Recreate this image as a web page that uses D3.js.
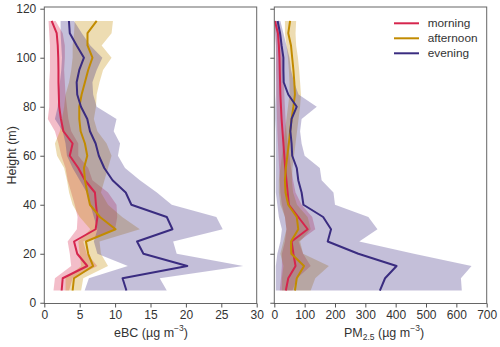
<!DOCTYPE html>
<html>
<head>
<meta charset="utf-8">
<script src="https://cdn.jsdelivr.net/npm/d3@7"></script>
<style>
  body { margin: 0; background: #fff; }
  svg text { font-family: "Liberation Sans", Arial, sans-serif; fill: #333; }
  .tick text { font-size: 12px; }
  .tick line { stroke: #555; }
  .domain { display: none; }
  .label { font-size: 12.5px; }
  .legend { font-size: 11.8px; }
</style>
</head>
<body>
<script>
//data
var heights = [5, 10, 15, 20, 25, 30, 35, 40, 45, 50, 55, 60, 65, 70, 75, 80, 85, 90, 95, 100, 105, 110, 115];

var ebcMorning   = [2.45, 2.6, 6.07, 4.65, 4.2, 7.25, 7.5, 7.3, 7.15, 5.74, 4.8, 3.6, 4.0, 2.7, 2.35, 2.1, 2.05, 2.0, 2.0, 1.97, 1.9, 1.75, 1.04];
var ebcMorningLo = [1.3, 1.5, 3.8, 3.6, 3.3, 4.6, 4.7, 4.3, 3.8, 3.3, 3.0, 2.4, 2.0, 1.5, 0.5, 0.7, 0.7, 0.7, 0.8, 0.8, 0.8, 0.7, 0.6];
var ebcMorningHi = [3.5, 4.0, 7.5, 6.0, 5.5, 10.0, 10.3, 10.2, 9.0, 6.8, 6.2, 4.8, 4.8, 3.8, 3.4, 3.2, 3.0, 2.9, 2.8, 2.9, 2.9, 2.6, 1.6];

var ebcAfternoon   = [4.0, 4.19, 6.9, 6.2, 5.88, 10.07, 7.86, 6.45, 6.07, 5.74, 5.6, 6.07, 5.74, 5.13, 4.94, 4.94, 5.27, 5.74, 6.2, 6.8, 6.1, 6.1, 7.4];
var ebcAfternoonLo = [3.0, 3.0, 5.2, 5.0, 4.8, 6.5, 5.0, 4.0, 3.5, 3.2, 2.8, 1.8, 1.5, 2.2, 2.5, 2.8, 3.0, 3.5, 3.8, 4.0, 4.0, 4.2, 4.3];
var ebcAfternoonHi = [5.2, 5.5, 9.0, 8.0, 7.8, 13.5, 11.0, 9.0, 8.0, 8.5, 9.0, 9.5, 8.8, 7.5, 7.0, 7.3, 7.4, 7.8, 8.3, 9.5, 8.1, 9.5, 9.7];

var ebcEvening   = [11.6, 11.05, 20.2, 14.0, 13.1, 18.1, 17.3, 12.3, 11.5, 9.64, 8.47, 7.7, 7.25, 6.45, 6.07, 5.18, 4.65, 4.57, 4.94, 5.6, 4.57, 3.6, 3.48];
var ebcEveningLo = [5.7, 6.3, 11.8, 7.5, 7.0, 7.5, 7.0, 6.5, 6.0, 5.0, 4.0, 3.2, 3.0, 2.6, 1.5, 1.9, 2.0, 2.2, 2.4, 2.5, 2.4, 2.3, 2.3];
var ebcEveningHi = [17.3, 16.3, 28.1, 18.7, 18.2, 25.2, 24.3, 18.0, 15.9, 13.5, 11.4, 10.4, 10.7, 9.8, 10.2, 7.4, 6.9, 6.8, 7.4, 8.2, 6.5, 5.3, 4.2];

var pmMorning   = [38, 46, 70, 63, 57, 110, 79, 48, 44, 40, 36, 33, 30, 27, 24, 22, 20, 19, 18, 17, 15, 12, 2];
var pmMorningLo = [18, 22, 25, 25, 35, 40, 35, 25, 20, 18, 16, 14, 12, 10, 9, 8, 7, 7, 6, 6, 5, 3, 1];
var pmMorningHi = [60, 75, 120, 95, 80, 135, 125, 90, 70, 62, 55, 50, 44, 40, 37, 35, 33, 32, 30, 28, 26, 22, 8];

var pmAfternoon   = [68, 74, 98, 56, 55, 79, 74, 46, 37, 35, 38, 43, 48, 52, 57, 63, 68, 66, 63, 59, 55, 46, 52];
var pmAfternoonLo = [25, 25, 30, 20, 30, 40, 35, 20, 15, 15, 20, 25, 30, 35, 40, 45, 50, 50, 48, 45, 40, 35, 35];
var pmAfternoonHi = [120, 135, 180, 95, 85, 120, 110, 75, 62, 58, 60, 65, 70, 75, 80, 85, 88, 85, 82, 78, 72, 70, 72];

var pmEvening   = [348, 365, 403, 277, 176, 187, 161, 96, 90, 79, 74, 59, 57, 53, 57, 74, 46, 31, 30, 30, 24, 19, 11];
var pmEveningLo = [5, 5, 5, 10, 20, 25, 15, 10, 5, 5, 5, 5, 5, 5, 3, 3, 5, 5, 5, 5, 5, 3, 2];
var pmEveningHi = [618, 615, 650, 460, 280, 340, 310, 200, 195, 156, 150, 100, 90, 85, 90, 140, 80, 65, 55, 50, 40, 30, 20];

var seriesNames  = ["morning", "afternoon", "evening"];
var seriesColors = ["#d6254d", "#c28b00", "#3a2c80"];

var yTicks = [0, 20, 40, 60, 80, 100, 120];
var ebcTicks = [0, 5, 10, 15, 20, 25, 30];
var pmTicks = [0, 100, 200, 300, 400, 500, 600, 700];

//layout
var W = 500, H = 347;
var plotTop = 7, plotBottom = 303.5;

var svg = d3.select("body").append("svg")
            .attr("width", W)
            .attr("height", H);

var yScale = d3.scaleLinear()
               .domain([-0.3, 120.7])
               .range([plotBottom, plotTop]);

//draws one panel
function panel(x0, x1, xDomain, xTicks, showYLabels, data)
{
    var xScale = d3.scaleLinear().domain(xDomain).range([x0, x1]);
    var g = svg.append("g");

    var area = d3.area()
                 .y(function(d, i){ return yScale(heights[i]); })
                 .x0(function(d){ return xScale(d[0]); })
                 .x1(function(d){ return xScale(d[1]); });

    var line = d3.line()
                 .x(function(d){ return xScale(d); })
                 .y(function(d, i){ return yScale(heights[i]); });

    //bands first
    data.forEach(function(s, k){
        var pairs = s.lo.map(function(v, i){ return [v, s.hi[i]]; });
        g.append("path")
         .attr("d", area(pairs))
         .attr("fill", seriesColors[k])
         .attr("fill-opacity", 0.3)
         .attr("stroke", "none");
    });

    //mean lines
    data.forEach(function(s, k){
        g.append("path")
         .attr("d", line(s.mid))
         .attr("fill", "none")
         .attr("stroke", seriesColors[k])
         .attr("stroke-width", 2)
         .attr("stroke-linejoin", "round");
    });

    //frame
    g.append("rect")
     .attr("x", x0).attr("y", plotTop)
     .attr("width", x1 - x0).attr("height", plotBottom - plotTop)
     .attr("fill", "none")
     .attr("stroke", "#666")
     .attr("stroke-width", 1);

    g.append("g")
     .attr("transform", "translate(0," + plotBottom + ")")
     .call(d3.axisBottom(xScale).tickValues(xTicks).tickSizeInner(4).tickSizeOuter(0).tickPadding(3));

    g.append("g")
     .attr("transform", "translate(" + x0 + ",0)")
     .call(d3.axisLeft(yScale).tickValues(yTicks).tickSizeInner(4).tickSizeOuter(0).tickPadding(4)
              .tickFormat(showYLabels ? d3.format("d") : function(){ return ""; }));
}

panel(44.3, 256.7, [0, 30], ebcTicks, true, [
    {mid: ebcMorning, lo: ebcMorningLo, hi: ebcMorningHi},
    {mid: ebcAfternoon, lo: ebcAfternoonLo, hi: ebcAfternoonHi},
    {mid: ebcEvening, lo: ebcEveningLo, hi: ebcEveningHi}
]);

panel(274.3, 486.7, [0, 700], pmTicks, false, [
    {mid: pmMorning, lo: pmMorningLo, hi: pmMorningHi},
    {mid: pmAfternoon, lo: pmAfternoonLo, hi: pmAfternoonHi},
    {mid: pmEvening, lo: pmEveningLo, hi: pmEveningHi}
]);

//axis labels
svg.append("text")
   .attr("class", "label")
   .attr("transform", "translate(12," + ((plotTop + plotBottom) / 2) + ") rotate(-90)")
   .attr("text-anchor", "middle")
   .attr("dy", "0.35em")
   .text("Height (m)");

var eLab = svg.append("text")
              .attr("class", "label")
              .attr("x", 151).attr("y", 337)
              .attr("text-anchor", "middle");
eLab.append("tspan").text("eBC (µg m");
eLab.append("tspan").attr("dy", -6).attr("font-size", "8.5px").text("−3");
eLab.append("tspan").attr("dy", 6).text(")");

var pLab = svg.append("text")
              .attr("class", "label")
              .attr("x", 384).attr("y", 337)
              .attr("text-anchor", "middle");
pLab.append("tspan").text("PM");
pLab.append("tspan").attr("dy", 3).attr("font-size", "8.5px").text("2.5");
pLab.append("tspan").attr("dy", -3).text(" (µg m");
pLab.append("tspan").attr("dy", -6).attr("font-size", "8.5px").text("−3");
pLab.append("tspan").attr("dy", 6).text(")");

//legend
var leg = svg.append("g")
             .attr("transform", "translate(394,23.3)")
             .selectAll("g")
             .data(seriesNames)
             .enter()
             .append("g")
             .attr("transform", function(d, i){ return "translate(0," + (i * 15) + ")"; });

leg.append("path")
   .attr("d", "M 0 0 L 25 0")
   .attr("stroke", function(d, i){ return seriesColors[i]; })
   .attr("stroke-width", 2);

leg.append("text")
   .attr("class", "legend")
   .attr("x", 33.7)
   .attr("dy", "0.35em")
   .text(function(d){ return d; });
</script>
</body>
</html>
